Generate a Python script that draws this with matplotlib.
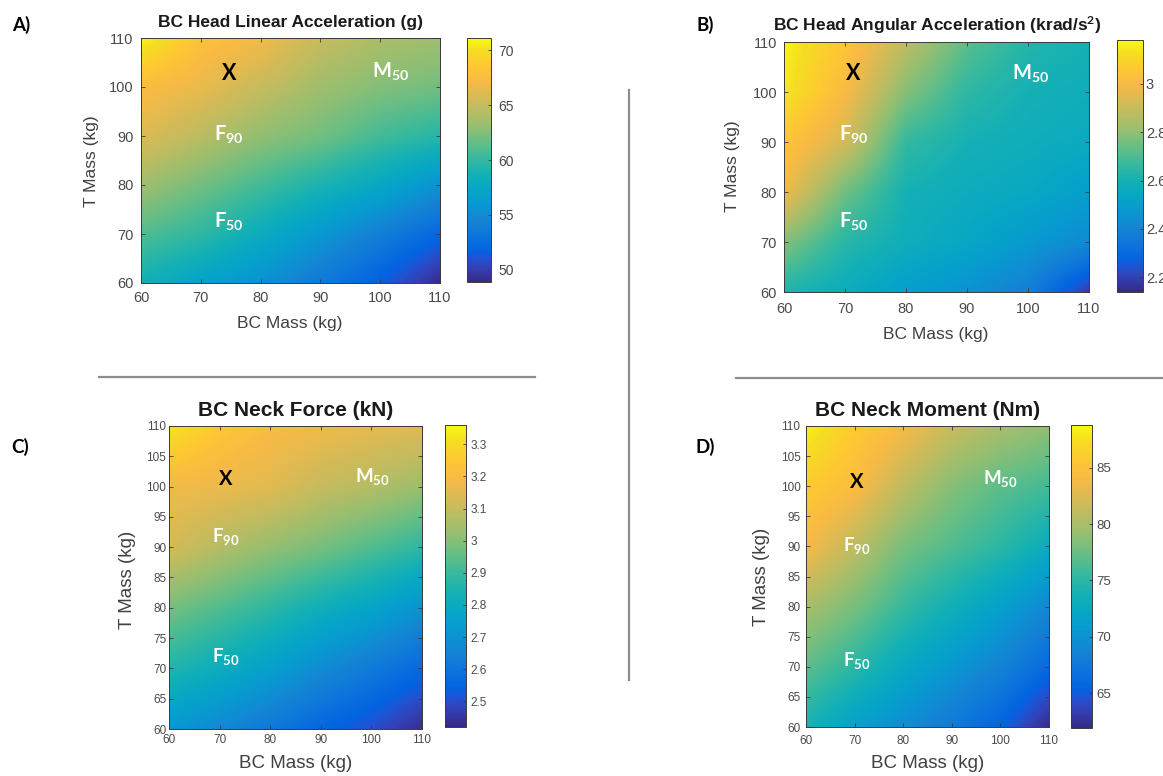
import numpy as np
import matplotlib
matplotlib.use("Agg")
import matplotlib.pyplot as plt
from matplotlib.colors import LinearSegmentedColormap
from matplotlib.lines import Line2D
from matplotlib.ticker import FuncFormatter

W, H = 1163, 776
plt.rcParams['font.family'] = ['Liberation Sans', 'DejaVu Sans']
plt.rcParams['mathtext.fontset'] = 'custom'
plt.rcParams['mathtext.rm'] = 'Lato'
plt.rcParams['mathtext.bf'] = 'Lato:bold'
plt.rcParams['mathtext.it'] = 'Lato:italic'

# ---------------- data ----------------
bc_mass = [60, 70, 80, 90, 100, 110]   # columns
t_mass = [60, 70, 80, 90, 100, 110]    # rows (bottom -> top)

# rows: T mass 60 ... 110 ; columns: BC mass 60 ... 110
lin_acc = [
    [58.5, 57.0, 55.5, 53.5, 51.5, 49.0],
    [61.0, 59.8, 58.0, 56.0, 54.0, 52.0],
    [63.5, 62.0, 60.5, 59.0, 57.5, 55.5],
    [66.0, 64.5, 63.0, 62.0, 60.5, 59.5],
    [67.5, 66.5, 65.0, 63.5, 62.5, 62.0],
    [71.0, 68.0, 67.0, 65.0, 64.0, 63.5],
]
ang_acc = [
    [2.62, 2.57, 2.50, 2.45, 2.38, 2.18],
    [2.78, 2.64, 2.58, 2.54, 2.48, 2.42],
    [2.98, 2.75, 2.60, 2.57, 2.55, 2.50],
    [3.05, 2.92, 2.66, 2.60, 2.58, 2.56],
    [3.15, 3.00, 2.78, 2.65, 2.60, 2.58],
    [3.17, 3.05, 2.88, 2.72, 2.63, 2.60],
]
neck_force = [
    [2.72, 2.67, 2.61, 2.55, 2.50, 2.43],
    [2.86, 2.81, 2.75, 2.68, 2.62, 2.56],
    [2.98, 2.93, 2.88, 2.82, 2.77, 2.70],
    [3.13, 3.07, 3.02, 2.98, 2.93, 2.88],
    [3.18, 3.17, 3.15, 3.10, 3.07, 3.03],
    [3.33, 3.25, 3.20, 3.18, 3.16, 3.15],
]
neck_moment = [
    [74.0, 71.5, 69.5, 67.5, 65.5, 62.0],
    [77.0, 75.0, 72.5, 70.5, 68.5, 66.0],
    [80.0, 78.0, 75.5, 73.5, 71.5, 69.0],
    [84.0, 81.0, 78.0, 76.5, 75.0, 73.0],
    [86.0, 84.5, 81.0, 78.5, 77.0, 76.0],
    [88.5, 86.0, 84.0, 81.5, 80.0, 79.0],
]

titles = ['BC Head Linear Acceleration (g)',
          r'BC Head Angular Acceleration (krad/s$^{\mathbf{2}}$)',
          'BC Neck Force (kN)',
          'BC Neck Moment (Nm)']
panel_letters = ['A)', 'B)', 'C)', 'D)']
clims = [(48.9, 71.1), (2.14, 3.18), (2.42, 3.36), (61.9, 88.8)]
cbar_ticks = [[50, 55, 60, 65, 70], [2.2, 2.4, 2.6, 2.8, 3.0],
              [2.5, 2.6, 2.7, 2.8, 2.9, 3.0, 3.1, 3.2, 3.3], [65, 70, 75, 80, 85]]
ytick_step = [10, 10, 5, 5]

marker_names = ['X', 'M', 'F90', 'F50']
marker_text = {'X': 'X', 'M': r'$\mathbf{M_{50}}$',
               'F90': r'$\mathbf{F_{90}}$', 'F50': r'$\mathbf{F_{50}}$'}
marker_pos = [
    {'X': (74.7, 102.7), 'M': (101.8, 103.0), 'F90': (74.7, 90.2), 'F50': (74.7, 72.4)},
    {'X': (71.3, 103.6), 'M': (100.5, 103.6), 'F90': (71.5, 91.4), 'F50': (71.5, 74.0)},
    {'X': (71.3, 101.3), 'M': (100.1, 101.6), 'F90': (71.3, 91.7), 'F50': (71.3, 72.0)},
    {'X': (70.5, 100.7), 'M': (99.9, 101.2), 'F90': (70.5, 90.2), 'F50': (70.5, 71.0)},
]

# ---------------- parula colormap ----------------
_par = {0: (0.2081, 0.1663, 0.5292), 4: (0.1959, 0.2645, 0.7279),
        6: (0.1253, 0.3242, 0.8303), 8: (0.0117, 0.3875, 0.8820),
        12: (0.0498, 0.4586, 0.8641), 16: (0.0793, 0.5200, 0.8312),
        20: (0.0343, 0.5966, 0.8199), 24: (0.0228, 0.6535, 0.7768),
        28: (0.0843, 0.6928, 0.7062), 32: (0.2178, 0.7250, 0.6193),
        36: (0.3953, 0.7459, 0.5244), 40: (0.5709, 0.7485, 0.4494),
        44: (0.7184, 0.7411, 0.3905), 48: (0.8507, 0.7299, 0.3360),
        52: (0.9739, 0.7314, 0.2666), 56: (0.9955, 0.7861, 0.1967),
        60: (0.9626, 0.8705, 0.1309), 63: (0.9763, 0.9831, 0.0538)}
parula = LinearSegmentedColormap.from_list('parula', [(k / 63.0, v) for k, v in _par.items()], N=256)

# ---------------- layout (pixels) ----------------
ax_box = [(141, 38, 440, 283), (784, 42, 1089, 292), (169, 426, 422, 729), (806, 426, 1049, 727)]
cb_box = [(467, 38, 491, 282), (1117, 40, 1143, 292), (445, 425, 466, 727), (1071, 425, 1092, 728)]
title_xy = [(290, 23), (937, 25), (296, 411), (928, 411)]
title_fs = [12.5, 12.5, 15, 15]
xlabel_xy = [(290, 323), (936, 334), (296, 763), (928, 763)]
ylabel_xy = [(91, 161), (733, 166), (127, 580), (762, 577)]
label_fs = [12.5, 12.5, 13.5, 13.5]
letter_xy = [(21, 25), (705, 25), (20, 447), (705, 447)]
tick_fs = [10.5, 10.5, 8.5, 8.5]
cb_fs = [10, 10.5, 8.5, 9.5]
xpad = [5.5, 7, 3.5, 5.5]
ypad = [5.5, 5, 2, 4]
cbpad = [5, 2, 3, 3]
mk_fs = [14.5, 14.5, 13.5, 13.5]
x_fs = [15.5, 15.5, 14.5, 14.5]

fields = [lin_acc, ang_acc, neck_force, neck_moment]

fig = plt.figure(figsize=(W / 100, H / 100), dpi=100)


def fbox(b):
    x0, y0, x1, y1 = b
    return [x0 / W, 1 - y1 / H, (x1 - x0) / W, (y1 - y0) / H]


def fxy(p):
    return (p[0] / W, 1 - p[1] / H)


TICKC = '#4a4a4a'
EDGE = '#3a3a3a'
for i in range(4):
    ax = fig.add_axes(fbox(ax_box[i]))
    Z = np.array(fields[i])
    dx = (bc_mass[1] - bc_mass[0]) / 2
    dy = (t_mass[1] - t_mass[0]) / 2
    im = ax.imshow(Z, origin='lower', aspect='auto', cmap=parula,
                   vmin=clims[i][0], vmax=clims[i][1],
                   extent=[bc_mass[0] - dx, bc_mass[-1] + dx, t_mass[0] - dy, t_mass[-1] + dy],
                   interpolation='bilinear', interpolation_stage='data')
    ax.set_xlim(bc_mass[0], bc_mass[-1])
    ax.set_ylim(t_mass[0], t_mass[-1])
    ax.set_xticks(np.arange(60, 111, 10))
    ax.set_yticks(np.arange(60, 111, ytick_step[i]))
    ax.tick_params(axis='both', direction='in', top=True, right=True, length=3,
                   width=0.6, color=EDGE, labelcolor=TICKC, labelsize=tick_fs[i])
    ax.tick_params(axis='x', pad=xpad[i])
    ax.tick_params(axis='y', pad=ypad[i])
    for s in ax.spines.values():
        s.set_color(EDGE)
        s.set_linewidth(0.7)

    for name in marker_names:
        x, y = marker_pos[i][name]
        if name == 'X':
            ax.text(x, y, 'X', color='black', fontsize=x_fs[i], fontweight='bold',
                    family='Lato', ha='center', va='center')
        else:
            ax.text(x, y, marker_text[name], color='white', fontsize=mk_fs[i],
                    ha='center', va='center')

    cax = fig.add_axes(fbox(cb_box[i]))
    cb = fig.colorbar(im, cax=cax)
    cb.set_ticks(cbar_ticks[i])
    cb.ax.yaxis.set_major_formatter(FuncFormatter(lambda v, p: '%g' % round(v, 3)))
    cax.tick_params(direction='in', length=2.5, width=0.6, color=EDGE,
                    labelcolor=TICKC, labelsize=cb_fs[i], pad=cbpad[i])
    cb.outline.set_edgecolor(EDGE)
    cb.outline.set_linewidth(0.7)

    tx, ty = fxy(title_xy[i])
    fig.text(tx, ty, titles[i], ha='center', va='center', fontsize=title_fs[i],
             fontweight='bold', color='#1a1a1a')
    lx, ly = fxy(xlabel_xy[i])
    fig.text(lx, ly, 'BC Mass (kg)', ha='center', va='center', fontsize=label_fs[i], color='#404040')
    lx, ly = fxy(ylabel_xy[i])
    fig.text(lx, ly, 'T Mass (kg)', ha='center', va='center', fontsize=label_fs[i],
             color='#404040', rotation=90)
    lx, ly = fxy(letter_xy[i])
    fig.text(lx, ly, panel_letters[i], ha='center', va='center', fontsize=13.5,
             fontweight='bold', family='Lato', color='black')

# separator lines
SEP = '#8c8c8c'
fig.add_artist(Line2D([629 / W, 629 / W], [1 - 90 / H, 1 - 680 / H], color=SEP, lw=1.6,
                      transform=fig.transFigure))
fig.add_artist(Line2D([99 / W, 535 / W], [1 - 377 / H, 1 - 377 / H], color=SEP, lw=1.6,
                      transform=fig.transFigure))
fig.add_artist(Line2D([736 / W, 1163 / W], [1 - 378 / H, 1 - 378 / H], color=SEP, lw=1.6,
                      transform=fig.transFigure))

fig.savefig('out.png', dpi=100)
